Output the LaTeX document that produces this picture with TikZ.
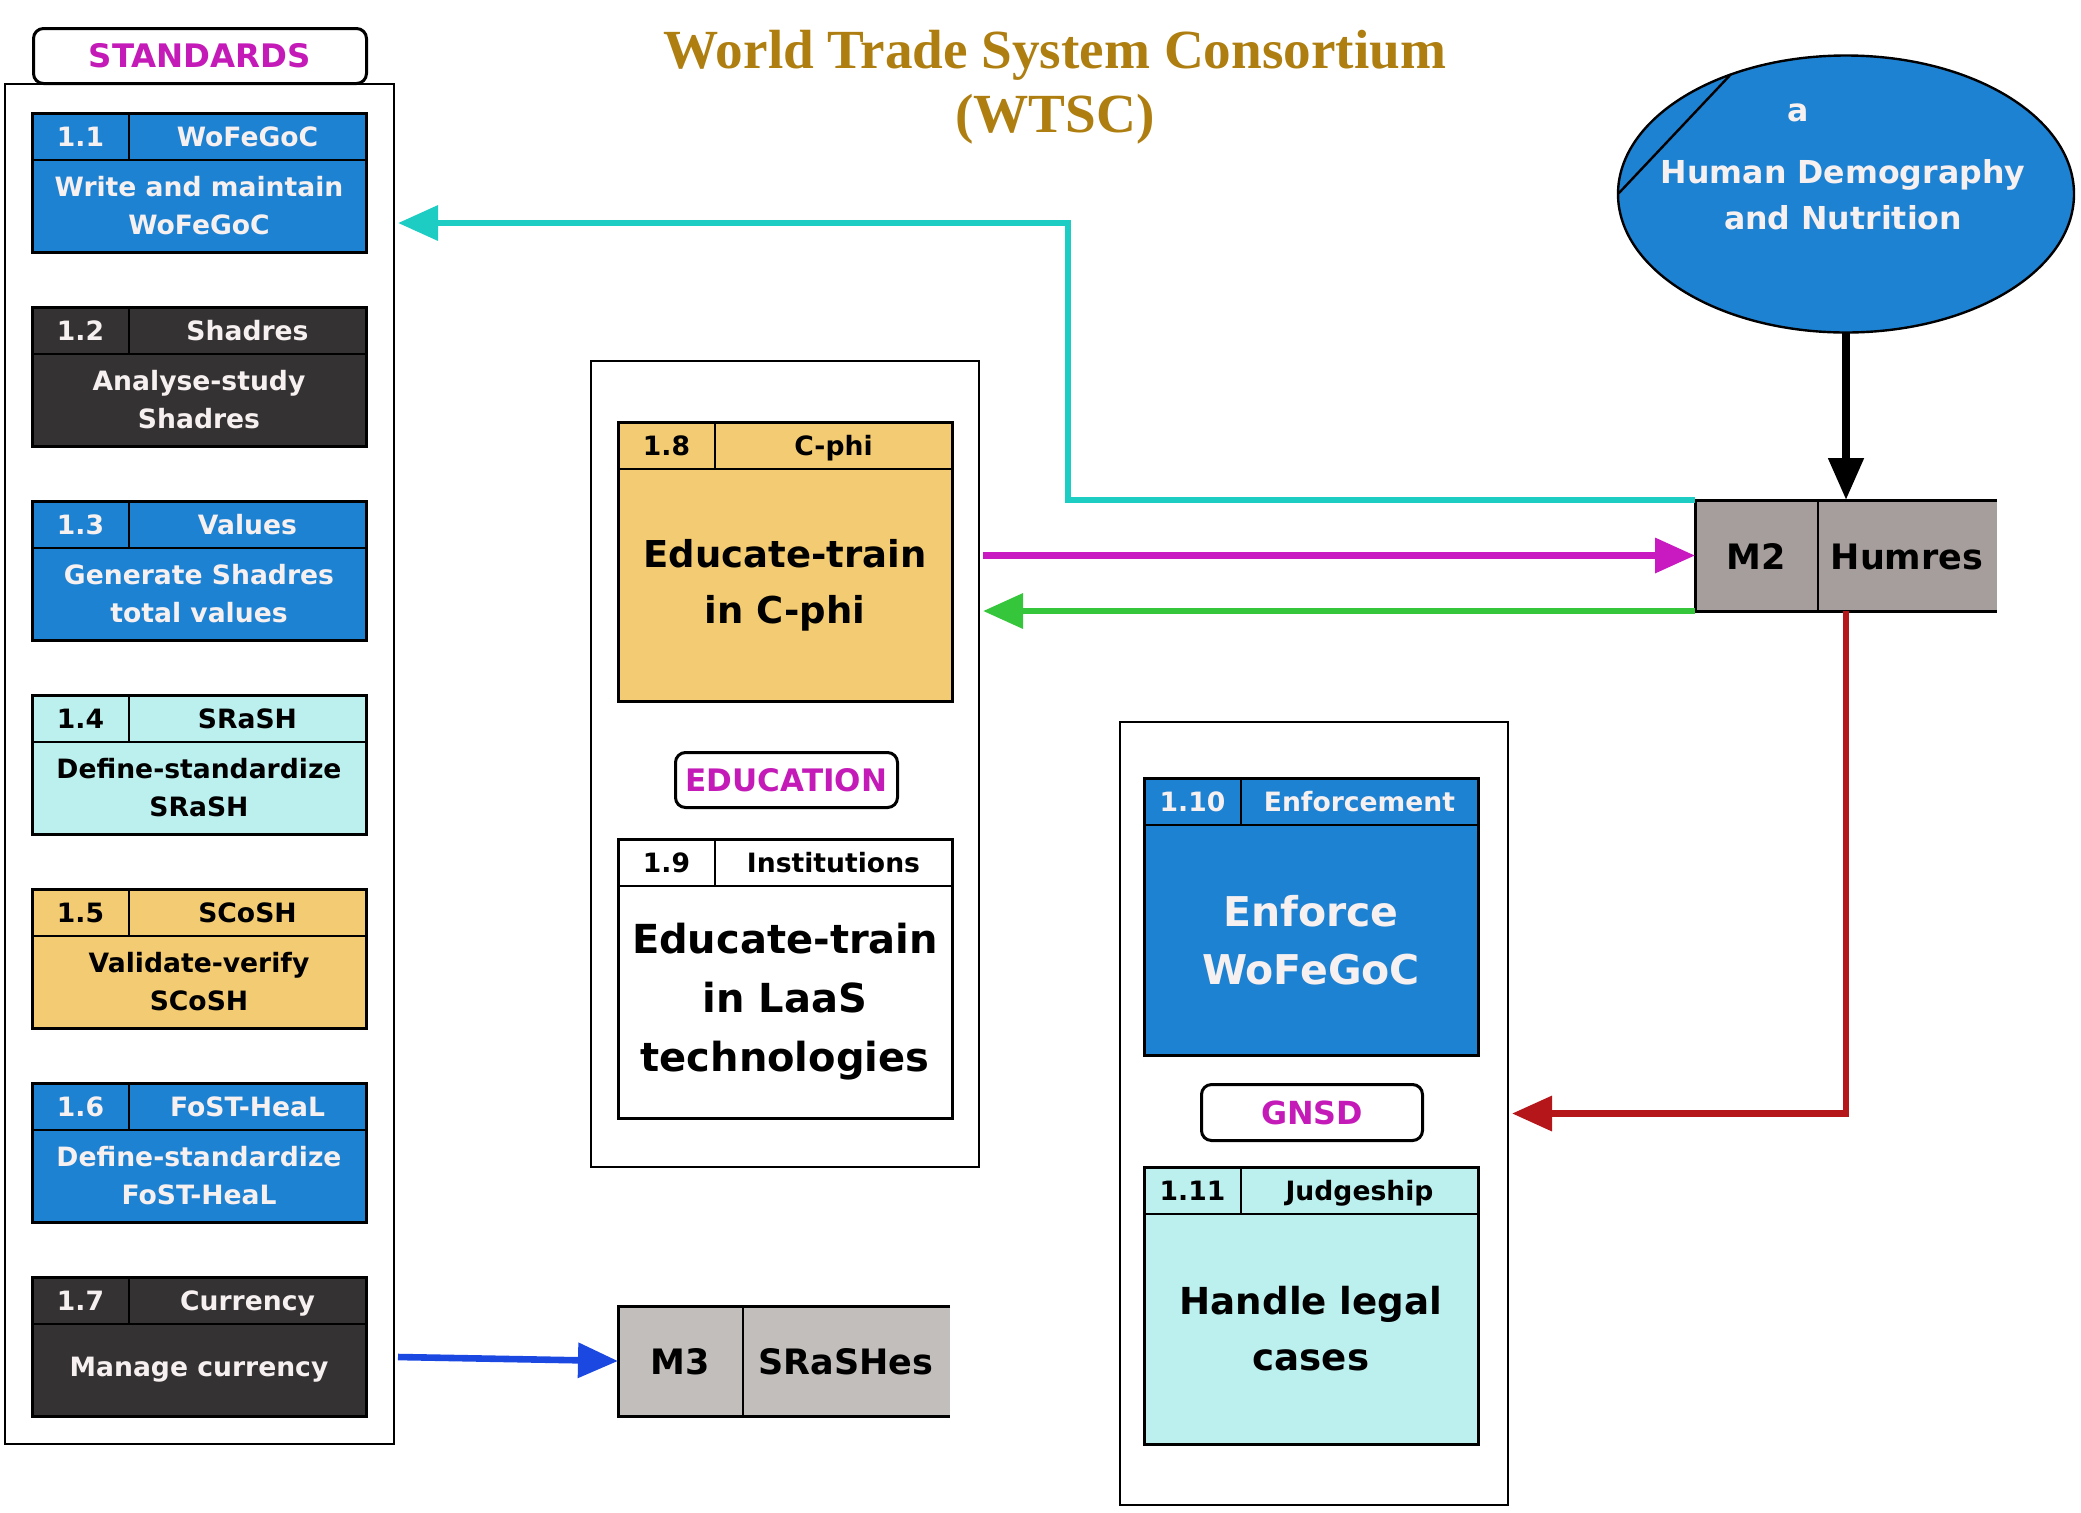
\documentclass[tikz,border=0pt]{standalone}
\usepackage{fontspec}
\setmainfont{DejaVu Sans}
\newfontfamily\titlefont{Liberation Serif}
\usetikzlibrary{arrows.meta,shapes.geometric,calc}

\definecolor{boxblue}{HTML}{1E82D2}
\definecolor{boxdark}{HTML}{343233}
\definecolor{boxcyan}{HTML}{BBF0EE}
\definecolor{boxyellow}{HTML}{F3CB72}
\definecolor{storegray}{HTML}{A69E9C}
\definecolor{storelight}{HTML}{C2BEBC}
\definecolor{paletext}{HTML}{F7F0F0}
\definecolor{labelmag}{HTML}{C41BB8}
\definecolor{titlegold}{HTML}{AE7E10}
\definecolor{flowcyan}{HTML}{1DCCC2}
\definecolor{flowmag}{HTML}{C81AC0}
\definecolor{flowgreen}{HTML}{35C63B}
\definecolor{flowred}{HTML}{B5161A}
\definecolor{flowblue}{HTML}{1B48E0}

% process box: [body font], name, left, top, height, colour style, number, title, body
\newcommand{\taskbox}[9][]{%
  \node[taskframe, #6, minimum height=#5*0.5pt] (#2) at (#3,#4) {};
  \draw[taskline] ([yshift=-23.5pt]#2.north west) -- ([yshift=-23.5pt]#2.north east);
  \draw[taskline] ([xshift=48.5pt]#2.north west) -- ([xshift=48.5pt,yshift=-23.5pt]#2.north west);
  \node[tasktext, #6, fill=none, anchor=base] (#2-num) at ([xshift=24.25pt,yshift=-16.6pt]#2.north west) {#7};
  \node[tasktext, #6, fill=none, anchor=base] (#2-title) at ([xshift=107.75pt,yshift=-16.6pt]#2.north west) {#8};
  \node[tasktext, #6, fill=none, align=center, #1] (#2-body) at ($(#2.south)!0.5!([yshift=-23.5pt]#2.north)$) {#9};
}

\begin{document}
\begin{tikzpicture}[x=0.5pt, y=-0.5pt,
  taskframe/.style={rectangle, draw=black, line width=1.5pt, inner sep=0pt, outer sep=0pt,
    minimum width=167pt, anchor=north west},
  taskline/.style={line width=0.8pt},
  tasktext/.style={font=\bfseries\fontsize{13.3}{19}\selectfont, inner sep=0pt},
  blueproc/.style={fill=boxblue, text=paletext},
  darkproc/.style={fill=boxdark, text=paletext},
  cyanproc/.style={fill=boxcyan, text=black},
  yellowproc/.style={fill=boxyellow, text=black},
  whiteproc/.style={fill=white, text=black},
  groupframe/.style={rectangle, draw=black, line width=1.4pt, inner sep=0pt, outer sep=0pt,
    anchor=north west},
  grouplabel/.style={rectangle, draw=black, fill=white, line width=1.5pt, rounded corners=5pt,
    text=labelmag, inner sep=0pt, anchor=north west},
  storetext/.style={font=\bfseries\fontsize{17.5}{21}\selectfont, inner sep=0pt},
  ellipsetext/.style={font=\bfseries\fontsize{15.8}{23}\selectfont, text=paletext, inner sep=0pt},
  flow/.style={line width=3.3pt, -{Triangle[length=20pt,width=17pt]}}]
  \useasboundingbox (0,0) rectangle (2081,1512);

  \node[font=\titlefont\bfseries\fontsize{27.6}{32}\selectfont, text=titlegold, align=center,
    inner sep=0pt] (title) at (1055,87) {World Trade System Consortium\\(WTSC)};

  \node[groupframe, minimum width=194.5pt, minimum height=680pt] (stdframe) at (5,84) {};
  \node[groupframe, minimum width=194pt, minimum height=403pt] (edframe) at (591,361) {};
  \node[groupframe, minimum width=194pt, minimum height=391.5pt] (gnframe) at (1120,722) {};

  \node[grouplabel, minimum width=166.5pt, minimum height=27.5pt,
    font=\bfseries\fontsize{16.2}{19}\selectfont] (stdlabel) at (32,27) {STANDARDS};
  \node[grouplabel, minimum width=111pt, minimum height=27.5pt,
    font=\bfseries\fontsize{15.5}{19}\selectfont] (edlabel) at (674,751) {EDUCATION};
  \node[grouplabel, minimum width=110.5pt, minimum height=28pt,
    font=\bfseries\fontsize{15.9}{19}\selectfont] (gnlabel) at (1200,1083) {GNSD};

  \taskbox{t11}{32}{113}{139}{blueproc}{1.1}{WoFeGoC}{Write and maintain\\WoFeGoC}
  \taskbox{t12}{32}{307}{139}{darkproc}{1.2}{Shadres}{Analyse-study\\Shadres}
  \taskbox{t13}{32}{501}{139}{blueproc}{1.3}{Values}{Generate Shadres\\total values}
  \taskbox{t14}{32}{695}{139}{cyanproc}{1.4}{SRaSH}{Define-standardize\\SRaSH}
  \taskbox{t15}{32}{889}{139}{yellowproc}{1.5}{SCoSH}{Validate-verify\\SCoSH}
  \taskbox{t16}{32}{1083}{139}{blueproc}{1.6}{FoST-HeaL}{Define-standardize\\FoST-HeaL}
  \taskbox{t17}{32}{1277}{139}{darkproc}{1.7}{Currency}{Manage currency}

  \taskbox[font=\bfseries\fontsize{18.5}{28}\selectfont]{t18}{618}{422}{279}{yellowproc}{1.8}{C-phi}{Educate-train\\in C-phi}
  \taskbox[font=\bfseries\fontsize{20}{29.5}\selectfont]{t19}{618}{839}{279}{whiteproc}{1.9}{Institutions}{Educate-train\\in LaaS\\technologies}

  \taskbox[font=\bfseries\fontsize{20.5}{29}\selectfont]{t110}{1144}{778}{277}{blueproc}{1.10}{Enforcement}{Enforce\\WoFeGoC}
  \taskbox[font=\bfseries\fontsize{18.6}{28}\selectfont]{t111}{1144}{1167}{277}{cyanproc}{1.11}{Judgeship}{Handle legal\\cases}

  \node[rectangle, fill=storegray, inner sep=0pt, outer sep=0pt, anchor=north west,
    minimum width=151pt, minimum height=55.5pt] (m2) at (1695,500) {};
  \draw[line width=1.5pt] (m2.north east) -- (m2.north west) -- (m2.south west) -- (m2.south east);
  \draw[taskline] ([xshift=61.5pt]m2.north west) -- ([xshift=61.5pt]m2.south west);
  \node[storetext, anchor=base] (m2-id) at (1756,569) {M2};
  \node[storetext, anchor=base] (m2-name) at (1907,569) {Humres};

  \node[rectangle, fill=storelight, inner sep=0pt, outer sep=0pt, anchor=north west,
    minimum width=166pt, minimum height=55pt] (m3) at (618,1306) {};
  \draw[line width=1.5pt] (m3.north east) -- (m3.north west) -- (m3.south west) -- (m3.south east);
  \draw[taskline] ([xshift=62.5pt]m3.north west) -- ([xshift=62.5pt]m3.south west);
  \node[storetext, anchor=base] (m3-id) at (680,1374) {M3};
  \node[storetext, anchor=base] (m3-name) at (846,1374) {SRaSHes};

  \node[ellipse, draw=black, line width=1.2pt, fill=boxblue, inner sep=0pt, outer sep=0pt,
    minimum width=228pt, minimum height=138.5pt] (hdn) at (1846,194) {};
  \draw[line width=1.2pt] (hdn.134) -- (hdn.west);
  \node[ellipsetext] (hdn-a) at (1798,113) {a};
  \node[ellipsetext, align=center] (hdn-name) at (1843,195) {Human Demography\\and Nutrition};

  \coordinate (cyanbend) at (1068,223);
  \coordinate (curout) at (398,1357);
  \draw[line width=4pt, -{Triangle[length=21pt,width=17pt]}] (hdn.south) -- (m2.north);
  \draw[flow, flowcyan, shorten >=2pt] (m2.north west) -| (cyanbend) -- (cyanbend -| stdframe.east);
  \draw[flow, flowmag, shorten <=2pt] (edframe.east |- m2.west) -- (m2.west);
  \draw[flow, flowgreen, shorten >=2pt] (m2.south west) -- (m2.south west -| edframe.east);
  \draw[flow, flowred, shorten >=2pt] (m2.south) |- (gnframe.east);
  \draw[flow, flowblue] (curout) -- (m3.west);
\end{tikzpicture}
\end{document}
